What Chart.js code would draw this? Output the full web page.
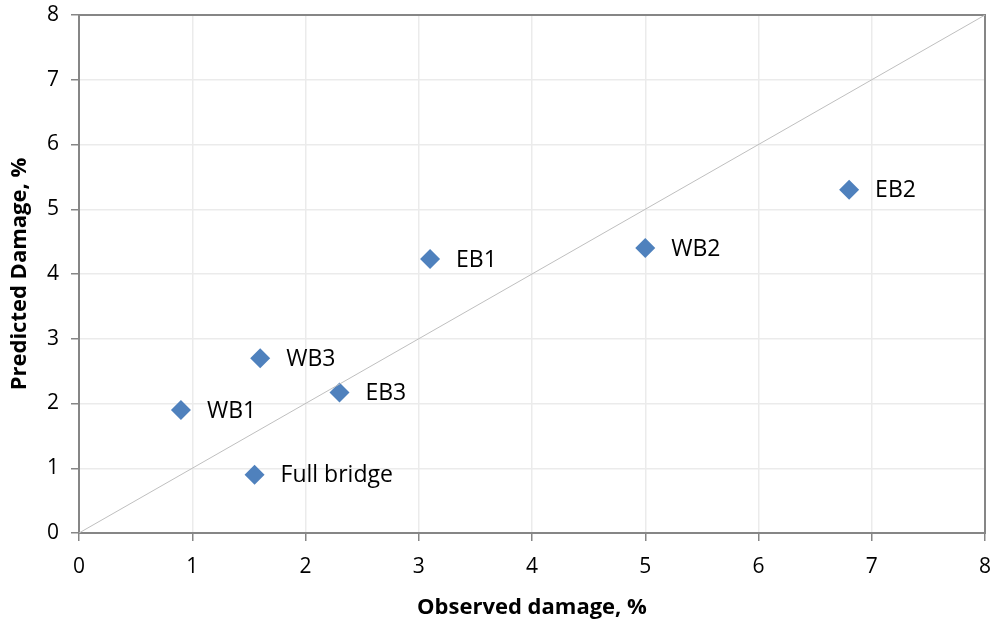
<!DOCTYPE html>
<html>
<head>
<meta charset="utf-8">
<script src="https://cdn.jsdelivr.net/npm/chart.js@4"></script>
<style>
  html, body { margin: 0; padding: 0; background: #fff; }
  #wrap { width: 995px; height: 627px; }
</style>
</head>
<body>
<div id="wrap"><canvas id="damageChart" width="995" height="627"></canvas></div>
<script>
// data
const names = ["WB1", "Full bridge", "WB3", "EB3", "EB1", "WB2", "EB2"];
const observed = [0.9, 1.55, 1.6, 2.3, 3.1, 5.0, 6.8];
const predicted = [1.9, 0.9, 2.7, 2.17, 4.23, 4.4, 5.3];
const lineX = [0, 8];
const lineY = [0, 8];

const FONT = "'Open Sans', 'Liberation Sans', sans-serif";

// label each diamond to its right
const pointLabels = {
    id: "pointLabels",
    afterDatasetsDraw(chart) {
        const ctx = chart.ctx;
        const meta = chart.getDatasetMeta(1);
        ctx.save();
        ctx.font = "23px " + FONT;
        ctx.fillStyle = "#000";
        ctx.textAlign = "left";
        ctx.textBaseline = "middle";
        meta.data.forEach((el, i) => {
            ctx.fillText(names[i], el.x + 26, el.y + 1);
        });
        ctx.restore();
    }
};

// grey frame round the plot area
const frame = {
    id: "frame",
    beforeDatasetsDraw(chart) {
        const a = chart.chartArea;
        const ctx = chart.ctx;
        ctx.save();
        ctx.strokeStyle = "#868686";
        ctx.lineWidth = 2;
        ctx.strokeRect(a.left, a.top, a.right - a.left, a.bottom - a.top);
        ctx.restore();
    }
};

const ctx = document.getElementById("damageChart").getContext("2d");

const chart = new Chart(ctx, {
    type: "scatter",
    data: {
        datasets: [
            {
                label: "1:1",
                data: lineX.map((x, i) => ({ x: x, y: lineY[i] })),
                showLine: true,
                borderColor: "#bfbfbf",
                borderWidth: 1,
                pointRadius: 0,
                fill: false
            },
            {
                label: "Damage",
                data: observed.map((x, i) => ({ x: x, y: predicted[i] })),
                pointStyle: "rectRot",
                pointRadius: 10,
                backgroundColor: "#4f81bd",
                borderColor: "#4f81bd",
                borderWidth: 0
            }
        ]
    },
    options: {
        responsive: false,
        animation: false,
        layout: { padding: { top: 15, right: 9, bottom: 0, left: 0 } },
        plugins: {
            legend: { display: false },
            tooltip: { enabled: false }
        },
        scales: {
            x: {
                type: "linear",
                min: 0,
                max: 8,
                afterFit(scale) {
                    scale.height = 94;
                    scale.paddingLeft = 0;
                    scale.paddingRight = 0;
                },
                ticks: { stepSize: 1, color: "#000", font: { family: FONT, size: 21 }, padding: 13 },
                grid: { color: "#ebebeb", tickColor: "#868686", tickLength: 8, lineWidth: 1.5 },
                border: { color: "#868686", width: 2 },
                title: {
                    display: true,
                    text: "Observed damage, %",
                    color: "#000",
                    font: { family: FONT, size: 22, weight: "bold" },
                    padding: { top: 6, bottom: 6 }
                }
            },
            y: {
                type: "linear",
                min: 0,
                max: 8,
                afterFit(scale) {
                    scale.width = 79;
                    scale.paddingTop = 0;
                    scale.paddingBottom = 0;
                },
                ticks: { stepSize: 1, color: "#000", font: { family: FONT, size: 21 }, padding: 12 },
                grid: { color: "#ebebeb", tickColor: "#868686", tickLength: 8, lineWidth: 1.5 },
                border: { color: "#868686", width: 2 },
                title: {
                    display: true,
                    text: "Predicted Damage, %",
                    color: "#000",
                    font: { family: FONT, size: 22, weight: "bold" },
                    padding: { top: 7, bottom: 8 }
                }
            }
        }
    },
    plugins: [frame, pointLabels]
});
</script>
</body>
</html>
